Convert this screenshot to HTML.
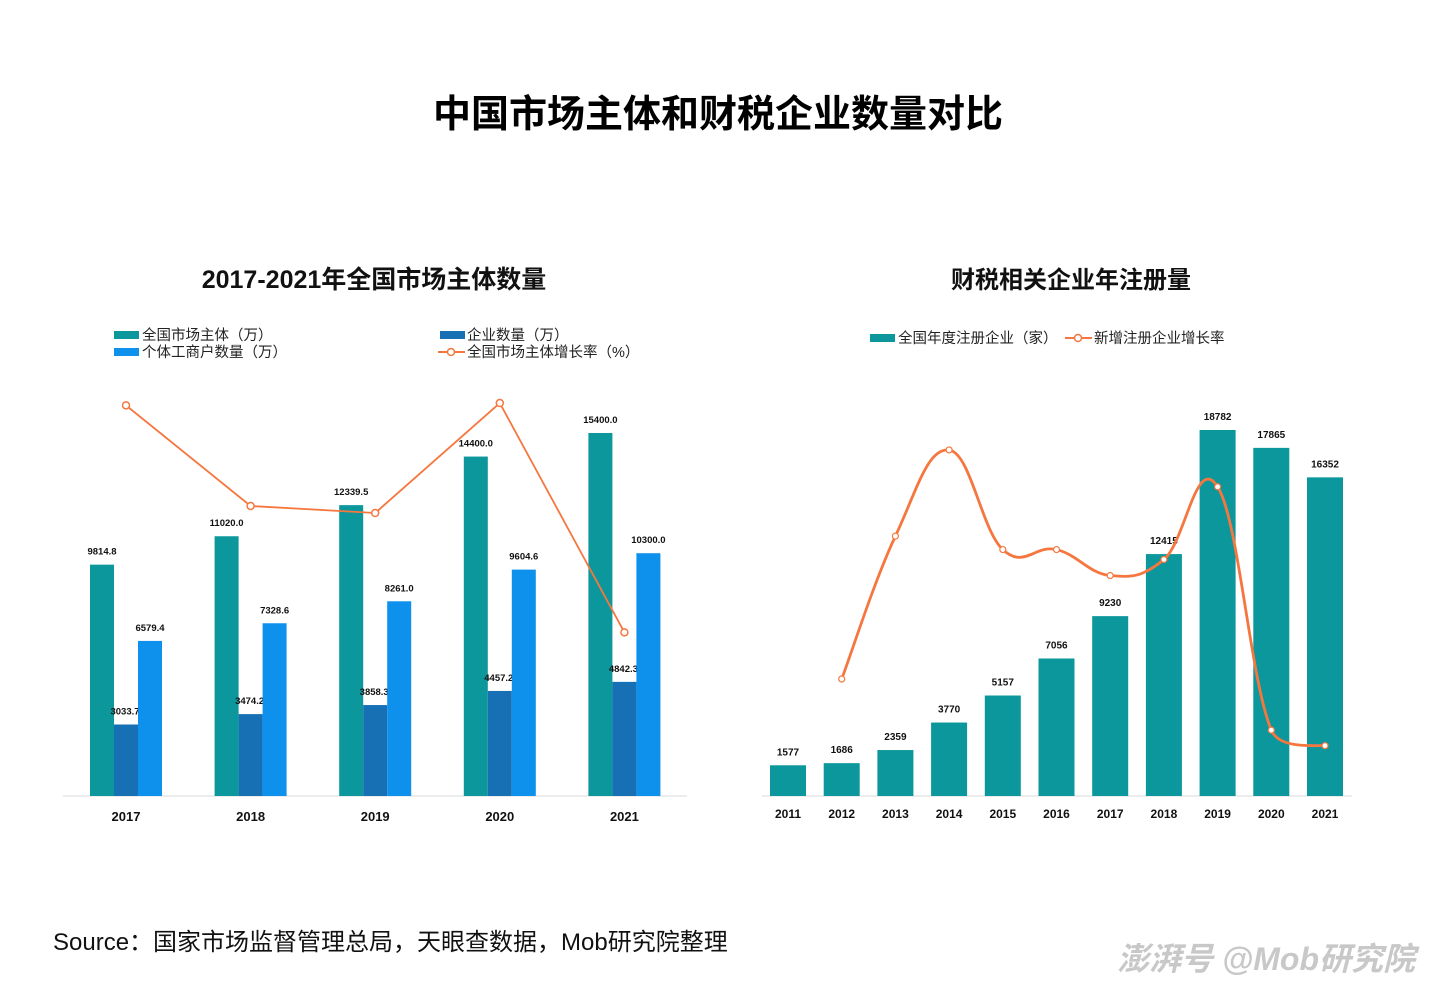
<!DOCTYPE html>
<html><head><meta charset="utf-8"><style>
body{margin:0;background:#fff;}
svg text{font-family:"Liberation Sans","Noto Sans CJK SC",sans-serif;}
</style></head><body>
<svg width="1436" height="983" viewBox="0 0 1436 983" xmlns="http://www.w3.org/2000/svg" id="root">
<text x="718" y="127" text-anchor="middle" font-size="38" font-weight="bold" fill="#000">中国市场主体和财税企业数量对比</text>
<text x="374" y="288" text-anchor="middle" font-size="25" font-weight="bold" fill="#111">2017-2021年全国市场主体数量</text>
<text x="1071" y="288" text-anchor="middle" font-size="24" font-weight="bold" fill="#111">财税相关企业年注册量</text>
<g font-size="14.5" fill="#222">
<rect x="114" y="331" width="25" height="8" fill="#0b979b"/><text x="142" y="340">全国市场主体（万）</text>
<rect x="114" y="348" width="25" height="8" fill="#0e91ed"/><text x="142" y="357">个体工商户数量（万）</text>
<rect x="440" y="331" width="25" height="8" fill="#1670b3"/><text x="467" y="340">企业数量（万）</text>
<line x1="438" y1="352" x2="465" y2="352" stroke="#f5773f" stroke-width="2"/><circle cx="451" cy="352" r="3.5" fill="#fff" stroke="#f5773f" stroke-width="1.5"/><text x="467" y="357">全国市场主体增长率（%）</text>
</g>
<g font-size="14.5" fill="#222">
<rect x="870" y="334" width="25" height="8" fill="#0b979b"/><text x="898" y="343">全国年度注册企业（家）</text>
<line x1="1065" y1="338" x2="1092" y2="338" stroke="#f5773f" stroke-width="2"/><circle cx="1078" cy="338" r="3.5" fill="#fff" stroke="#f5773f" stroke-width="1.5"/><text x="1094" y="343">新增注册企业增长率</text>
</g>
<line x1="63" y1="796" x2="687" y2="796" stroke="#d9d9d9"/>
<line x1="762" y1="796" x2="1352" y2="796" stroke="#d9d9d9"/>
<g id="left"></g><g id="right"></g>
<text x="53" y="950" font-size="24" fill="#111">Source：国家市场监督管理总局，天眼查数据，Mob研究院整理</text>
<text x="1415" y="970" text-anchor="end" font-size="32" font-weight="bold" font-style="italic" fill="#c8c8c8">澎湃号 @Mob研究院</text>
</svg>
<script>
const leftYears=["2017","2018","2019","2020","2021"];
const totalSubjects=[9814.8,11020.0,12339.5,14400.0,15400.0];
const enterprises=[3033.7,3474.2,3858.3,4457.2,4842.3];
const individuals=[6579.4,7328.6,8261.0,9604.6,10300.0];
const subjectGrowth=[16.6,12.3,12.0,16.7,6.9];
const rightYears=["2011","2012","2013","2014","2015","2016","2017","2018","2019","2020","2021"];
const registrations=[1577,1686,2359,3770,5157,7056,9230,12415,18782,17865,16352];
const regGrowth=[null,6.9,39.9,59.8,36.8,36.8,30.8,34.5,51.3,-4.9,-8.5];

const NS="http://www.w3.org/2000/svg";
function mk(parent,tag,attrs,txt){const e=document.createElementNS(NS,tag);for(const k in attrs)e.setAttribute(k,attrs[k]);if(txt!==undefined)e.textContent=txt;parent.appendChild(e);return e;}
const L=document.getElementById('left'),R=document.getElementById('right');
const base=796;
const lx=i=>126+i*124.6, ly=v=>base-v*363/15400, lg=r=>793.8-23.4*r;
leftYears.forEach((y,i)=>{
  const c=lx(i);
  const sets=[[totalSubjects,-36,'#0b979b','bar-total-'],[enterprises,-12,'#1670b3','bar-enterprise-'],[individuals,12,'#0e91ed','bar-individual-']];
  sets.forEach(([arr,off,col,nm],k)=>{
    const r=mk(L,'rect',{x:c+off,y:ly(arr[i]),width:24,height:base-ly(arr[i]),fill:col});
    
    
    const tx=k===1?c-1:c+off+12;
    const t=mk(L,'text',{x:tx,y:ly(arr[i])-10,'text-anchor':'middle','font-size':9.5,'font-weight':'bold',fill:'#111'},arr[i].toFixed(1));
    
    
  });
  const xl=mk(L,'text',{x:c,y:821,'text-anchor':'middle','font-size':13,'font-weight':'bold',fill:'#111'},y);
  
  
});
const lp=mk(L,'polyline',{points:subjectGrowth.map((r,i)=>lx(i)+','+lg(r)).join(' '),fill:'none',stroke:'#f5773f','stroke-width':1.8});


subjectGrowth.forEach((r,i)=>{const c=mk(L,'circle',{cx:lx(i),cy:lg(r),r:3.5,fill:'#fff',stroke:'#f5773f','stroke-width':1.5});

});
const rx=i=>788+i*53.7, ry=v=>base-v*366/18782, rg=r=>708.9-4.33*r;
rightYears.forEach((y,i)=>{
  const c=rx(i);
  const b=mk(R,'rect',{x:c-18,y:ry(registrations[i]),width:36,height:base-ry(registrations[i]),fill:'#0b979b'});
  
  
  const t=mk(R,'text',{x:c,y:ry(registrations[i])-10,'text-anchor':'middle','font-size':10,'font-weight':'bold',fill:'#111'},registrations[i]);
  
  
  const xl=mk(R,'text',{x:c,y:818,'text-anchor':'middle','font-size':12,'font-weight':'bold',fill:'#111'},y);
  
  
});
const pts=[];regGrowth.forEach((r,i)=>{if(r!==null)pts.push([rx(i),rg(r)]);});
let d='M'+pts[0][0]+','+pts[0][1];
for(let i=0;i<pts.length-1;i++){
  const p0=pts[Math.max(0,i-1)],p1=pts[i],p2=pts[i+1],p3=pts[Math.min(pts.length-1,i+2)];
  const t=i>=pts.length-2?0.08:0.2;
  d+=' C'+(p1[0]+(p2[0]-p0[0])*t)+','+(p1[1]+(p2[1]-p0[1])*t)+' '+(p2[0]-(p3[0]-p1[0])*t)+','+(p2[1]-(p3[1]-p1[1])*t)+' '+p2[0]+','+p2[1];
}
const rp=mk(R,'path',{d:d,fill:'none',stroke:'#f5773f','stroke-width':2.8});


pts.forEach(p=>{const c=mk(R,'circle',{cx:p[0],cy:p[1],r:3,fill:'#fff',stroke:'#f5773f','stroke-width':1.2});

});
</script>
</body></html>
